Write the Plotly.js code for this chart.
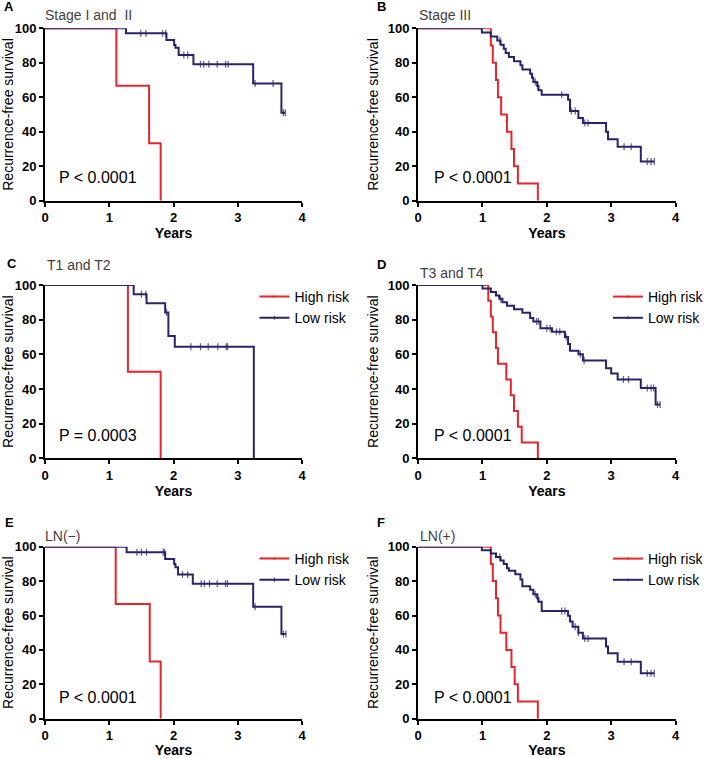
<!DOCTYPE html>
<html>
<head>
<meta charset="utf-8">
<script src="https://cdn.plot.ly/plotly-3.0.1.min.js"></script>
<style>
  html, body { margin: 0; padding: 0; background: #fff; }
  #chart { width: 709px; height: 758px; }
</style>
</head>
<body>
<div id="chart"></div>
<script>
// ==================== DATA (years, % recurrence-free) ====================

// A: Stage I and II
const aHighTimes = [1.11, 1.62, 1.80];
const aHighSurv  = [66.7, 33.3, 0];
const aHighCens  = [];
const aLowTimes  = [1.26, 1.89, 2.01, 2.03, 2.08, 2.31, 3.24, 3.68];
const aLowSurv   = [97.1, 93.2, 90.3, 88.7, 84.5, 79.2, 68.0, 51.0];
const aLowCens   = [1.49, 1.57, 1.83, 1.88, 2.16, 2.22, 2.42, 2.47, 2.55, 2.68, 2.81, 2.85, 3.27, 3.55, 3.71, 3.74];

// B: Stage III
const bHighTimes = [1.13, 1.16, 1.21, 1.24, 1.29, 1.38, 1.45, 1.49, 1.55, 1.86];
const bHighSurv  = [90, 80, 70, 60, 50, 40, 30, 20, 10, 0];
const bHighCens  = [];
const bLowTimes  = [0.99, 1.13, 1.23, 1.28, 1.33, 1.36, 1.41, 1.49, 1.59, 1.62, 1.74, 1.77, 1.79, 1.85, 1.87, 1.92, 2.33, 2.36, 2.49, 2.56, 2.92, 2.95, 3.10, 3.46];
const bLowSurv   = [97.6, 95.2, 92.9, 90.5, 88.1, 85.7, 83.3, 80.9, 78.5, 76.1, 73.7, 71.3, 68.9, 66.5, 64.1, 61.5, 58.5, 52.0, 48.0, 45.0, 40.0, 35.7, 31.3, 22.8];
const bLowCens   = [1.27, 1.82, 1.86, 2.23, 2.38, 2.44, 2.59, 2.64, 3.20, 3.31, 3.56, 3.62, 3.67];

// C: T1 and T2
const cHighTimes = [1.29, 1.80];
const cHighSurv  = [50, 0];
const cHighCens  = [];
const cLowTimes  = [1.38, 1.58, 1.87, 1.92, 2.02, 3.25];
const cLowSurv   = [94.7, 89.5, 84.2, 70.6, 64.4, 0];
const cLowCens   = [1.50, 1.57, 1.89, 2.27, 2.42, 2.54, 2.69, 2.82, 2.84];

// D: T3 and T4
const dHighTimes = [1.09, 1.13, 1.16, 1.21, 1.24, 1.37, 1.44, 1.49, 1.55, 1.61, 1.86];
const dHighSurv  = [90.9, 81.8, 72.7, 63.6, 54.5, 45.5, 36.4, 27.3, 18.2, 9.1, 0];
const dHighCens  = [];
const dLowTimes  = [1.00, 1.13, 1.21, 1.26, 1.31, 1.38, 1.49, 1.62, 1.74, 1.79, 1.90, 2.08, 2.28, 2.33, 2.36, 2.49, 2.56, 2.92, 3.00, 3.10, 3.46, 3.69];
const dLowSurv   = [98, 96, 94, 92, 90, 88, 86, 84, 81, 79, 75, 73, 70, 66, 62, 60, 56.5, 52, 49, 45.5, 40.5, 31];
const dLowCens   = [1.28, 1.84, 1.87, 2.00, 2.05, 2.15, 2.20, 2.30, 2.52, 2.58, 3.19, 3.27, 3.56, 3.62, 3.66, 3.72, 3.76];

// E: LN(-)
const eHighTimes = [1.10, 1.63, 1.80];
const eHighSurv  = [66.7, 33.3, 0];
const eHighCens  = [];
const eLowTimes  = [1.27, 1.87, 2.01, 2.03, 2.07, 2.30, 3.24, 3.68];
const eLowSurv   = [96.8, 92.8, 90.0, 88.0, 83.9, 78.5, 65.1, 49.2];
const eLowCens   = [1.43, 1.50, 1.58, 1.84, 1.86, 2.14, 2.22, 2.43, 2.48, 2.56, 2.68, 2.81, 2.84, 3.27, 3.71, 3.75];

// F: LN(+)
const fHighTimes = [1.13, 1.16, 1.21, 1.24, 1.28, 1.37, 1.45, 1.50, 1.55, 1.86];
const fHighSurv  = [90, 80, 70, 60, 50, 40, 30, 20, 10, 0];
const fHighCens  = [];
const fLowTimes  = [0.99, 1.13, 1.21, 1.28, 1.33, 1.38, 1.41, 1.51, 1.59, 1.62, 1.74, 1.79, 1.85, 1.87, 1.92, 2.33, 2.36, 2.40, 2.49, 2.56, 2.92, 2.95, 3.10, 3.46];
const fLowSurv   = [98, 96, 94, 92, 90, 87.5, 86, 84, 81, 77, 75, 72.3, 70, 68, 62.6, 59.9, 56.5, 53.5, 50, 46.7, 42, 38, 33.1, 26.4];
const fLowCens   = [1.27, 1.82, 1.86, 2.23, 2.28, 2.44, 2.49, 2.59, 2.64, 3.20, 3.31, 3.56, 3.62, 3.67];

const panelLetters   = ['A', 'B', 'C', 'D', 'E', 'F'];
const panelSubtitles = ['Stage I and  II', 'Stage III', 'T1 and T2', 'T3 and T4', 'LN(\u2212)', 'LN(+)'];
const panelPValues   = ['P < 0.0001', 'P < 0.0001', 'P = 0.0003', 'P < 0.0001', 'P < 0.0001', 'P < 0.0001'];
const groupNames     = ['High risk', 'Low risk'];
const xTicks = [0, 1, 2, 3, 4];
const yTicks = [0, 20, 40, 60, 80, 100];

// ==================== LAYOUT GEOMETRY (pixels) ====================

const W = 709, H = 758;
const FONT = 'Arial, "Liberation Sans", sans-serif';
const RED = '#e4252b';
const NAVY = '#27246b';

const colX = [[45.5, 305], [422.3, 682.3]];
const rowY = [[28.3, 200.7], [285, 458.3], [546.7, 718.7]];

const letterPos   = [[9, 6], [385, 6], [12, 263], [385, 264], [10, 522], [385, 522]];
const subtitlePos = [[43, 15], [421, 15], [45, 265], [422, 273], [43, 536], [422, 536]];
const pValuePos   = [[58, 177], [436, 178], [58, 435], [436, 435], [58, 697], [436, 697]];
const legendPos   = [null, null, [257, 281], [614, 281], [257, 543], [614, 543]];

const px = x => x / W;
const py = y => 1 - y / H;

// ==================== KAPLAN-MEIER HELPERS ====================

// merge events and censored times into one step path
function kmPoints(times, surv, cens) {
  const pts = [{ x: 0, y: 100, c: 0 }];
  times.forEach((t, i) => pts.push({ x: t, y: surv[i], c: 0 }));
  cens.forEach(t => {
    let s = 100;
    times.forEach((et, i) => { if (et <= t) s = surv[i]; });
    pts.push({ x: t, y: s, c: 1 });
  });
  pts.sort((a, b) => a.x - b.x || a.c - b.c);
  return pts;
}

function kmTrace(times, surv, cens, color, idx, name, showLegend) {
  const pts = kmPoints(times, surv, cens);
  const suffix = idx === 0 ? '' : String(idx + 1);
  return {
    type: 'scatter',
    mode: 'lines+markers',
    x: pts.map(p => p.x),
    y: pts.map(p => p.y),
    xaxis: 'x' + suffix,
    yaxis: 'y' + suffix,
    name: name,
    showlegend: showLegend,
    legend: 'legend' + suffix,
    cliponaxis: false,
    line: { shape: 'hv', color: color, width: 2 },
    marker: {
      symbol: 'line-ns-open',
      size: pts.map(p => p.c ? 5 : 0),
      line: { color: color, width: 1.3 }
    },
    hoverinfo: 'skip'
  };
}

// ==================== BUILD FIGURE ====================

const panels = [
  [aHighTimes, aHighSurv, aHighCens, aLowTimes, aLowSurv, aLowCens],
  [bHighTimes, bHighSurv, bHighCens, bLowTimes, bLowSurv, bLowCens],
  [cHighTimes, cHighSurv, cHighCens, cLowTimes, cLowSurv, cLowCens],
  [dHighTimes, dHighSurv, dHighCens, dLowTimes, dLowSurv, dLowCens],
  [eHighTimes, eHighSurv, eHighCens, eLowTimes, eLowSurv, eLowCens],
  [fHighTimes, fHighSurv, fHighCens, fLowTimes, fLowSurv, fLowCens]
];

const data = [];
const layout = {
  width: W,
  height: H,
  margin: { l: 0, r: 0, t: 0, b: 0 },
  paper_bgcolor: '#fff',
  plot_bgcolor: 'rgba(0,0,0,0)',
  font: { family: FONT, color: '#000' },
  annotations: []
};

panels.forEach((p, i) => {
  const hasLegend = legendPos[i] !== null;
  data.push(kmTrace(p[0], p[1], p[2], RED, i, groupNames[0], hasLegend));
  data.push(kmTrace(p[3], p[4], p[5], NAVY, i, groupNames[1], hasLegend));

  const col = colX[i % 2];
  const row = rowY[Math.floor(i / 2)];
  const suffix = i === 0 ? '' : String(i + 1);

  const axisCommon = {
    showgrid: false,
    zeroline: false,
    showline: true,
    linecolor: '#000',
    linewidth: 2,
    ticks: 'outside',
    ticklen: 4,
    tickwidth: 2,
    tickcolor: '#000',
    tickfont: { family: FONT, size: 13, weight: 'bold', color: '#000' },
    fixedrange: true
  };

  layout['xaxis' + suffix] = Object.assign({}, axisCommon, {
    domain: [px(col[0]), px(col[1])],
    anchor: 'y' + suffix,
    range: [0, 4],
    tickvals: xTicks,
    title: { text: 'Years', font: { family: FONT, size: 14, weight: 'bold' }, standoff: 0 }
  });
  layout['yaxis' + suffix] = Object.assign({}, axisCommon, {
    domain: [py(row[1]), py(row[0])],
    anchor: 'x' + suffix,
    range: [0, 100],
    tickvals: yTicks,
    title: { text: 'Recurrence-free survival', font: { family: FONT, size: 14 }, standoff: 6 }
  });

  if (hasLegend) {
    layout['legend' + suffix] = {
      x: px(legendPos[i][0]),
      y: py(legendPos[i][1]),
      xanchor: 'left',
      yanchor: 'top',
      bgcolor: 'rgba(0,0,0,0)',
      font: { family: FONT, size: 14, color: '#000' },
      tracegroupgap: 0,
      traceorder: 'normal'
    };
  }

  layout.annotations.push({
    text: panelLetters[i], xref: 'paper', yref: 'paper',
    x: px(letterPos[i][0]), y: py(letterPos[i][1]),
    xanchor: 'center', yanchor: 'middle', showarrow: false,
    font: { family: FONT, size: 13, weight: 'bold', color: '#000' }
  });
  layout.annotations.push({
    text: panelSubtitles[i], xref: 'paper', yref: 'paper',
    x: px(subtitlePos[i][0]), y: py(subtitlePos[i][1]),
    xanchor: 'left', yanchor: 'middle', showarrow: false,
    font: { family: FONT, size: 14, color: '#404040' }
  });
  layout.annotations.push({
    text: panelPValues[i], xref: 'paper', yref: 'paper',
    x: px(pValuePos[i][0]), y: py(pValuePos[i][1]),
    xanchor: 'left', yanchor: 'middle', showarrow: false,
    font: { family: FONT, size: 16, color: '#000' }
  });
});

Plotly.newPlot('chart', data, layout, { staticPlot: true, displayModeBar: false });
</script>
</body>
</html>
